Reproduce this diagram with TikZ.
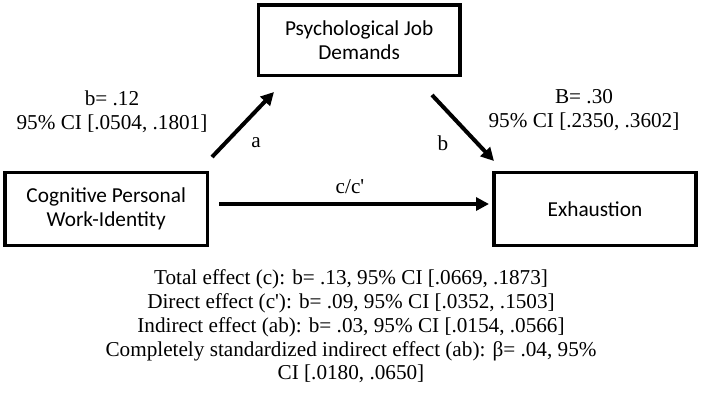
\documentclass[tikz,border=0pt]{standalone}
\usepackage{fontspec}
\setmainfont{Liberation Serif}
\newfontfamily\boxfont{Carlito}
\usetikzlibrary{arrows.meta}
\tikzset{
  varbox/.style={draw, line width=3.5pt, align=center, inner sep=0pt,
    font=\boxfont\fontsize{21.3}{24.3}\selectfont},
  conn/.style={line width=4pt, -{Triangle[length=13pt,width=13pt]}},
  lbl/.style={align=center, inner sep=0pt, font=\fontsize{21.2}{23.7}\selectfont}
}
\begin{document}
\begin{tikzpicture}[x=1pt,y=-1pt]
\useasboundingbox (0,0) rectangle (702,392);
\node[varbox, minimum width=201.5pt, minimum height=70.5pt] (pjd) at (359.2,40.3) {Psychological Job\\Demands};
\node[varbox, minimum width=202.5pt, minimum height=73pt] (cpw) at (106.2,209) {Cognitive Personal\\Work-Identity};
\node[varbox, minimum width=202pt, minimum height=73pt] (exh) at (595,209) {Exhaustion};
\coordinate (aS) at (212,157);
\coordinate (aE) at (274,92);
\coordinate (bS) at (432,95);
\coordinate (bE) at (494,161);
\coordinate (cS) at (219,204);
\coordinate (cE) at (489,204);
\draw[conn] (aS) -- (aE);
\draw[conn] (bS) -- (bE);
\draw[conn] (cS) -- (cE);
\node[lbl] (la) at (112,112) {b= .12\\95\% CI [.0504, .1801]};
\node[lbl] (lb) at (584,110) {B= .30\\95\% CI [.2350, .3602]};
\node[lbl] (a) at (256,143) {a};
\node[lbl] (b) at (443,143) {b};
\node[lbl] (c) at (350,187) {c/c\textquotesingle};
\node[lbl] (summary) at (351,326.5) {Total effect (c): b= .13, 95\% CI [.0669, .1873]\\
Direct effect (c\textquotesingle): b= .09, 95\% CI [.0352, .1503]\\
Indirect effect (ab): b= .03, 95\% CI [.0154, .0566]\\
Completely standardized indirect effect (ab): β= .04, 95\%\\
CI [.0180, .0650]};
\end{tikzpicture}
\end{document}
